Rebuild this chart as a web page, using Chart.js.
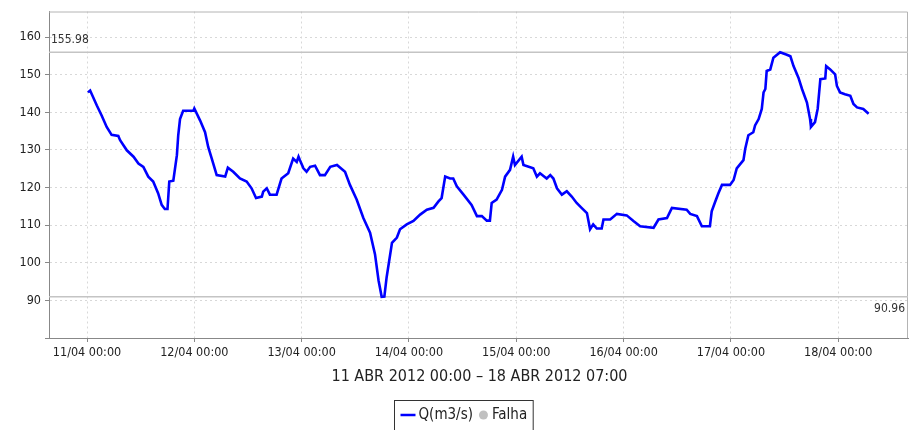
<!DOCTYPE html>
<html>
<head>
<meta charset="utf-8">
<script src="https://cdn.jsdelivr.net/npm/chart.js@4/dist/chart.umd.min.js"></script>
<style>
  html, body { margin: 0; padding: 0; background: #fff; }
  #wrap { width: 911px; height: 430px; }
</style>
</head>
<body>
<div id="wrap"><canvas id="chart" width="911" height="430"></canvas></div>
<script>
// hours counted from 11/04/2012 00:00
const hours = [
  0.2, 0.7, 2.2, 3.3, 4.4, 5.5, 7.0, 7.4, 8.9, 10.4, 11.5, 12.6, 13.7, 14.8, 15.9, 16.7, 17.4, 18.0,
  18.4, 19.3, 20.1, 20.4, 20.8, 21.5, 23.8, 24.0, 25.3, 26.4, 27.1, 27.9, 29.0, 30.9, 31.5, 32.7,
  34.2, 35.7, 36.8, 37.8, 39.1, 39.4, 40.2, 40.9, 42.4, 43.5, 45.0, 46.1, 46.9, 47.3, 47.6, 48.4,
  49.1, 49.9, 51.0, 52.1, 53.2, 54.4, 55.9, 57.7, 58.8, 60.3, 61.8, 63.3, 64.4, 65.2, 65.9, 66.5,
  67.0, 68.2, 69.3, 70.0, 71.5, 73.0, 74.5, 76.0, 77.5, 78.6, 79.3, 80.1, 81.2, 81.9, 82.7, 84.2,
  86.0, 87.2, 88.3, 89.4, 90.1, 90.5, 91.6, 92.8, 93.5, 94.6, 95.3, 95.7, 97.2, 97.6, 99.8, 100.6,
  101.3, 102.8, 103.6, 104.3, 105.1, 106.2, 107.3, 108.4, 109.5, 110.6, 111.8, 112.5, 113.2, 114.0,
  115.1, 115.5, 117.0, 118.5, 120.7, 122.2, 123.7, 126.7, 127.8, 129.7, 130.8, 134.1, 134.9, 136.4,
  137.5, 139.3, 139.7, 140.5, 141.2, 142.0, 143.8, 144.6, 145.3, 146.8, 147.2, 147.9, 149.0, 149.4,
  150.2, 150.9, 151.3, 151.7, 152.0, 152.8, 153.5, 155.0, 156.5, 157.3, 158.0, 159.1, 159.9, 161.0,
  161.7, 161.9, 162.8, 163.4, 164.0, 165.1, 165.3, 166.2, 167.3, 167.7, 168.4, 169.5, 170.7, 171.4,
  172.2, 173.6, 174.8
];
const flow = [
  145.3, 145.8, 141.8, 139.1, 136.1, 134.0, 133.7, 132.6, 129.9, 128.2, 126.4, 125.5, 122.9, 121.6, 118.5, 115.4, 114.3, 114.3,
  121.6, 121.8, 128.6, 133.9, 138.2, 140.4, 140.4, 141.0, 137.8, 134.7, 130.8, 127.7, 123.3, 122.9, 125.3, 124.2,
  122.4, 121.6, 119.8, 117.2, 117.6, 118.9, 119.8, 118.1, 118.1, 122.4, 123.8, 127.7, 126.8, 128.2, 127.3, 125.1,
  124.2, 125.5, 125.8, 123.3, 123.3, 125.5, 126.0, 124.2, 120.7, 116.8, 111.9, 108.0, 102.3, 95.3, 90.96, 91.0,
  96.1, 105.3, 106.7, 108.9, 110.2, 111.1, 112.8, 114.1, 114.6, 116.3, 117.2, 122.9, 122.4, 122.4, 120.3, 118.1,
  115.4, 112.4, 112.4, 111.2, 111.2, 115.9, 116.8, 119.4, 122.9, 124.7, 128.2, 126.0, 128.2, 126.0, 125.1, 122.9,
  123.8, 122.4, 123.3, 122.4, 119.8, 118.1, 119.0, 117.6, 115.9, 114.6, 113.2, 108.9, 110.2, 109.1,
  109.1, 111.5, 111.5, 113.0, 112.6, 111.1, 109.7, 109.3, 111.5, 111.9, 114.6, 114.1, 113.0, 112.4,
  109.7, 109.7, 113.7, 116.3, 118.5, 120.7, 120.7, 122.0, 125.1, 127.3, 130.3, 133.9, 134.7, 136.5,
  138.2, 140.9, 145.3, 146.2, 151.0, 151.4, 154.5, 155.98, 155.3, 154.9, 152.3, 149.2, 146.2, 142.6,
  138.2, 136.1, 137.4, 140.9, 148.8, 149.0, 152.3, 151.4, 150.1, 147.0, 145.3, 144.8, 144.4, 142.2,
  141.3, 140.9, 139.6
];

const dayTicks = [0, 24, 48, 72, 96, 120, 144, 168];
const dayLabels = ['11/04 00:00', '12/04 00:00', '13/04 00:00', '14/04 00:00',
                   '15/04 00:00', '16/04 00:00', '17/04 00:00', '18/04 00:00'];
const yTicks = [80, 90, 100, 110, 120, 130, 140, 150, 160];
const maxRef = 155.98;
const minRef = 90.96;
const seriesNames = ['Q(m3/s)', 'Falha'];
const periodLabel = '11 ABR 2012 00:00 \u2013 18 ABR 2012 07:00';

const FONT = "'DejaVu Sans Condensed', 'DejaVu Sans', sans-serif";

const extras = {
  id: 'extras',
  beforeDatasetsDraw(chart) {
    const { ctx, chartArea: a, scales: { y } } = chart;
    ctx.save();
    // frame top / right
    ctx.strokeStyle = '#b4b4b4';
    ctx.lineWidth = 1;
    ctx.beginPath();
    ctx.moveTo(a.left, a.top + 0.5);
    ctx.lineTo(a.right - 0.5, a.top + 0.5);
    ctx.lineTo(a.right - 0.5, a.bottom);
    ctx.stroke();
    // max / min reference lines
    ctx.strokeStyle = '#c4c4c4';
    ctx.lineWidth = 1.5;
    [maxRef, minRef].forEach(v => {
      const py = y.getPixelForValue(v);
      ctx.beginPath();
      ctx.moveTo(a.left, py);
      ctx.lineTo(a.right, py);
      ctx.stroke();
    });
    ctx.fillStyle = '#333';
    ctx.font = '12px ' + FONT;
    ctx.textBaseline = 'bottom';
    ctx.textAlign = 'left';
    ctx.fillText(maxRef.toFixed(2), a.left + 2, y.getPixelForValue(maxRef) - 6);
    ctx.textBaseline = 'top';
    ctx.textAlign = 'right';
    ctx.fillText(minRef.toFixed(2), a.right - 3, y.getPixelForValue(minRef) + 6);
    ctx.restore();
  },
  afterDraw(chart) {
    const { ctx, chartArea: a } = chart;
    ctx.save();
    // axis title
    ctx.fillStyle = '#222';
    ctx.font = '16px ' + FONT;
    ctx.textAlign = 'center';
    ctx.textBaseline = 'middle';
    ctx.fillText(periodLabel, (a.left + a.right) / 2 + 1, 377);
    // legend box
    ctx.font = '15px ' + FONT;
    ctx.textAlign = 'left';
    const w1 = ctx.measureText(seriesNames[0]).width;
    const w2 = ctx.measureText(seriesNames[1]).width;
    const boxW = 6 + 15 + 3 + w1 + 6 + 9 + 4 + w2 + 6;
    const bx = Math.round(463.5 - boxW / 2) + 0.5;
    const by = 400.5;
    const cy = 415;
    ctx.strokeStyle = '#333';
    ctx.lineWidth = 1;
    ctx.strokeRect(bx, by, boxW, 40);
    let cx = bx + 6;
    ctx.strokeStyle = '#0000ff';
    ctx.lineWidth = 2.5;
    ctx.beginPath();
    ctx.moveTo(cx, cy);
    ctx.lineTo(cx + 15, cy);
    ctx.stroke();
    cx += 18;
    ctx.fillStyle = '#222';
    ctx.fillText(seriesNames[0], cx, cy);
    cx += w1 + 6;
    ctx.fillStyle = '#c0c0c0';
    ctx.beginPath();
    ctx.arc(cx + 4.5, cy, 4.5, 0, Math.PI * 2);
    ctx.fill();
    cx += 13;
    ctx.fillStyle = '#222';
    ctx.fillText(seriesNames[1], cx, cy);
    ctx.restore();
  }
};

const ctx = document.getElementById('chart').getContext('2d');
new Chart(ctx, {
  type: 'line',
  data: {
    datasets: [{
      label: seriesNames[0],
      data: hours.map((h, i) => ({ x: h, y: flow[i] })),
      borderColor: '#0000ff',
      borderWidth: 2.6,
      pointRadius: 0,
      tension: 0,
      fill: false
    }]
  },
  options: {
    responsive: false,
    animation: false,
    layout: { padding: { top: 8, right: 3, left: 0, bottom: 0 } },
    plugins: { legend: { display: false }, tooltip: { enabled: false } },
    scales: {
      x: {
        type: 'linear',
        min: -8.5,
        max: 183.6,
        afterBuildTicks: s => { s.ticks = dayTicks.map(v => ({ value: v })); },
        afterFit: s => { s.height = 92; },
        ticks: {
          autoSkip: false,
          maxRotation: 0,
          padding: 3,
          color: '#222',
          font: { family: FONT, size: 12.5 },
          callback: (v, i) => dayLabels[i]
        },
        grid: { color: '#d8d8d8', tickColor: '#888', tickLength: 4, tickBorderDash: [] },
        border: { color: '#888', width: 1, dash: [2, 3] }
      },
      y: {
        min: 80,
        max: 166.8,
        afterBuildTicks: s => { s.ticks = yTicks.map(v => ({ value: v })); },
        afterFit: s => { s.width = 49; },
        ticks: {
          padding: 4,
          color: '#222',
          font: { family: FONT, size: 12.5 },
          callback: v => (v === 80 ? '' : v)
        },
        grid: { color: '#d8d8d8', tickColor: '#888', tickLength: 4, tickBorderDash: [] },
        border: { color: '#888', width: 1, dash: [2, 3] }
      }
    }
  },
  plugins: [extras]
});
</script>
</body>
</html>
